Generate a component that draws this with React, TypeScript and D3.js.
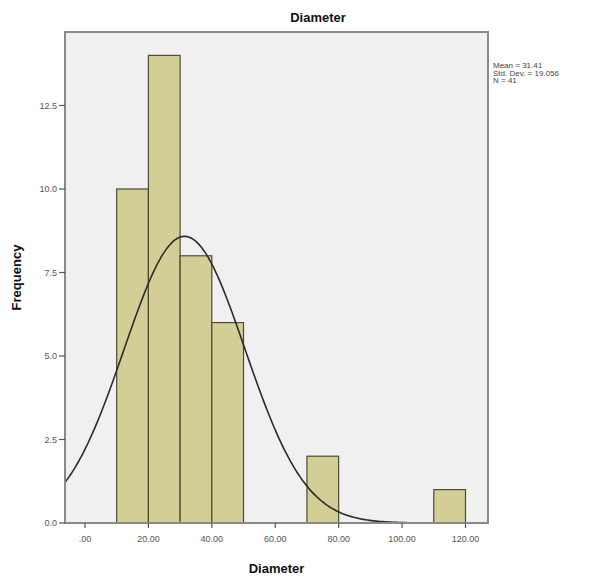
import React from 'react'
import * as d3 from 'd3'

// histogram of Diameter (SPSS style)
const binStarts = [10, 20, 30, 40, 70, 110]
const binCounts = [10, 14, 8, 6, 2, 1]
const binWidth = 10
const xTicks = [0, 20, 40, 60, 80, 100, 120]
const xTickLabels = ['.00', '20.00', '40.00', '60.00', '80.00', '100.00', '120.00']
const yTicks = [0, 2.5, 5, 7.5, 10, 12.5]
const statLabels = ['Mean = 31.41', 'Std. Dev. = 19.056', 'N = 41']
const mean = 31.41
const stdDev = 19.056
const total = 41

const W = 590
const H = 579
const left = 65
const right = 488
const top = 32
const bottom = 523

const App = () => {
  const x = d3.scaleLinear().domain([-6.3, 127.1]).range([left, right])
  const y = d3.scaleLinear().domain([0, 14.7]).range([bottom, top])

  // fitted normal curve from mean / sd / N
  const pdf = (v: number) =>
    (total * binWidth / (stdDev * Math.sqrt(2 * Math.PI))) *
    Math.exp(-0.5 * ((v - mean) / stdDev) ** 2)
  const [d0, d1] = x.domain()
  const curvePts = d3.range(0, 201).map(i => d0 + (d1 - d0) * i / 200)
  const line = d3.line<number>()
    .x(v => x(v))
    .y(v => y(pdf(v)))
    .curve(d3.curveBasis)

  const font = 'Arial, "Liberation Sans", sans-serif'

  return (
    <svg width={W} height={H} style={{ position: 'absolute', left: 0, top: 0, background: '#fff' }}
      fontFamily={font}>
      <text x={318} y={22} textAnchor="middle" fontSize={13} fontWeight="bold" fill="#111">Diameter</text>

      <rect x={left} y={top} width={right - left} height={bottom - top} fill="#f0f0f0" />

      {binStarts.map((b, i) => (
        <rect key={i}
          x={x(b)} y={y(binCounts[i])}
          width={x(b + binWidth) - x(b)} height={y(0) - y(binCounts[i])}
          fill="#d3ce96" stroke="#4d4b32" strokeWidth={1.2} />
      ))}

      <path d={line(curvePts) || ''} fill="none" stroke="#2b2b2b" strokeWidth={1.6}
        clipPath="url(#plotClip)" />
      <defs>
        <clipPath id="plotClip">
          <rect x={left} y={top} width={right - left} height={bottom - top} />
        </clipPath>
      </defs>

      <rect x={left} y={top} width={right - left} height={bottom - top} fill="none"
        stroke="#8a8a8a" strokeWidth={2} />

      {yTicks.map(t => (
        <g key={t}>
          <line x1={left - 6} x2={left} y1={y(t)} y2={y(t)} stroke="#555" strokeWidth={1.2} />
          <text x={left - 8} y={y(t)} dy="0.35em" textAnchor="end" fontSize={9} fill="#555">
            {t.toFixed(1)}
          </text>
        </g>
      ))}

      {xTicks.map((t, i) => (
        <g key={t}>
          <line x1={x(t)} x2={x(t)} y1={bottom} y2={bottom + 5} stroke="#555" strokeWidth={1.2} />
          <text x={x(t)} y={bottom + 19} textAnchor="middle" fontSize={9} fill="#555">
            {xTickLabels[i]}
          </text>
        </g>
      ))}

      <text x={(left + right) / 2} y={573} textAnchor="middle" fontSize={13} fontWeight="bold" fill="#111">
        Diameter
      </text>
      <text transform={`translate(21,${(top + bottom) / 2}) rotate(-90)`} textAnchor="middle"
        fontSize={13} fontWeight="bold" fill="#111">Frequency</text>

      {statLabels.map((s, i) => (
        <text key={s} x={493} y={68 + i * 7.5} fontSize={8} fill="#444">{s}</text>
      ))}
    </svg>
  )
}

export default App
